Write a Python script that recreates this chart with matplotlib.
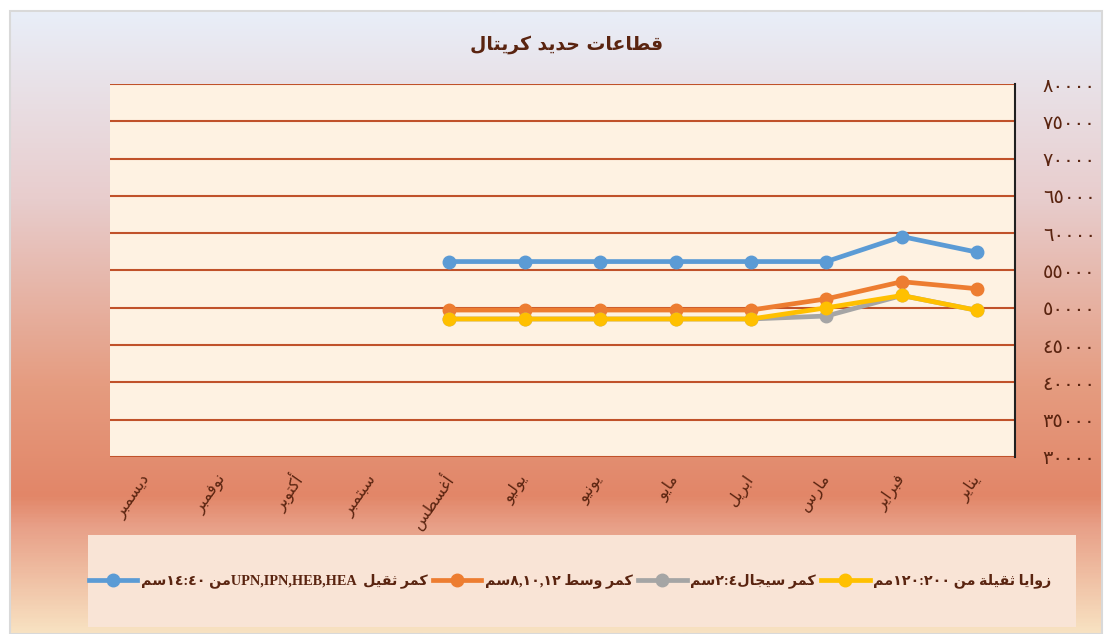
import re
import numpy as np
import matplotlib
matplotlib.use("Agg")
import matplotlib.pyplot as plt
from matplotlib.colors import LinearSegmentedColormap
from matplotlib.patches import Rectangle
from matplotlib.lines import Line2D

# Data (months listed January -> December, drawn right to left)
months = ["يناير", "فبراير", "مارس", "ابريل", "مايو", "يونيو",
          "يوليو", "أغسطس", "سبتمبر", "أكتوبر", "نوفمبر", "ديسمبر"]
nan = np.nan
heavy_beams = [57450, 59550, 56200, 56200, 56200, 56200, 56200, 56200, nan, nan, nan, nan]
medium_beams = [52550, 53500, 51200, 49700, 49700, 49700, 49700, 49700, nan, nan, nan, nan]
channel_beams = [49650, 51650, 48900, 48500, 48500, 48500, 48500, 48500, nan, nan, nan, nan]
heavy_angles = [49650, 51650, 50000, 48500, 48500, 48500, 48500, 48500, nan, nan, nan, nan]

series_labels = ["كمر ثقيل  UPN,IPN,HEB,HEAمن ١٤:٤٠سم",
                 "كمر وسط ٨,١٠,١٢سم",
                 "كمر سيجال٢:٤سم",
                 "زوايا ثقيلة من ١٢٠:٢٠٠مم"]
series_colors = ["#5B9BD5", "#ED7D31", "#A5A5A5", "#FFC000"]
title = "قطاعات حديد كريتال"
y_ticks = list(range(30000, 80001, 5000))

TEXT_COLOR = "#5A2410"

# --- tiny Arabic shaping + bidi, matplotlib does neither ---
DUAL = {'ب': 0xFE8F, 'ت': 0xFE95, 'ث': 0xFE99, 'ج': 0xFE9D, 'ح': 0xFEA1, 'خ': 0xFEA5,
        'س': 0xFEB1, 'ش': 0xFEB5, 'ص': 0xFEB9, 'ض': 0xFEBD, 'ط': 0xFEC1, 'ظ': 0xFEC5,
        'ع': 0xFEC9, 'غ': 0xFECD, 'ف': 0xFED1, 'ق': 0xFED5, 'ك': 0xFED9, 'ل': 0xFEDD,
        'م': 0xFEE1, 'ن': 0xFEE5, 'ه': 0xFEE9, 'ي': 0xFEF1}
RIGHT = {'ا': 0xFE8D, 'أ': 0xFE83, 'إ': 0xFE87, 'آ': 0xFE81, 'ة': 0xFE93, 'د': 0xFEA9,
         'ذ': 0xFEAB, 'ر': 0xFEAD, 'ز': 0xFEAF, 'و': 0xFEED, 'ى': 0xFEEF}


def shape(text):
    out = []
    for i, ch in enumerate(text):
        prev_c = text[i - 1] if i > 0 else ''
        next_c = text[i + 1] if i + 1 < len(text) else ''
        joins_prev = prev_c in DUAL
        if ch in DUAL:
            joins_next = next_c in DUAL or next_c in RIGHT
            base = DUAL[ch]
            if joins_prev and joins_next:
                out.append(chr(base + 3))
            elif joins_prev:
                out.append(chr(base + 1))
            elif joins_next:
                out.append(chr(base + 2))
            else:
                out.append(chr(base))
        elif ch in RIGHT:
            out.append(chr(RIGHT[ch] + (1 if joins_prev else 0)))
        else:
            out.append(ch)
    return ''.join(out)


LTR_RUN = re.compile(r'([A-Za-z0-9\u0660-\u0669](?:[A-Za-z0-9\u0660-\u0669,:.]*[A-Za-z0-9\u0660-\u0669])?)')


def ar(text):
    tokens = LTR_RUN.split(shape(text))
    parts = []
    for k, tok in enumerate(tokens):
        parts.append(tok if k % 2 == 1 else tok[::-1])
    return ''.join(reversed(parts))


def arabic_digits(v):
    return ''.join(chr(0x0660 + int(d)) for d in str(int(v)))


W, H = 1107, 634
fig = plt.figure(figsize=(W / 100, H / 100), dpi=100)

# gradient background of the chart area
bg = fig.add_axes([10 / W, 0, 1092 / W, 623 / H])
bg_cmap = LinearSegmentedColormap.from_list("bg", [
    (0.00, (248 / 255, 226 / 255, 194 / 255)),
    (0.17, (232 / 255, 160 / 255, 136 / 255)),
    (0.22, (226 / 255, 134 / 255, 104 / 255)),
    (0.40, (229 / 255, 156 / 255, 128 / 255)),
    (0.70, (232 / 255, 205 / 255, 205 / 255)),
    (1.00, (233 / 255, 238 / 255, 248 / 255)),
])
bg.imshow(np.linspace(0, 1, 400).reshape(-1, 1), cmap=bg_cmap, aspect="auto",
          origin="lower", extent=[0, 1, 0, 1])
bg.set_axis_off()
fig.patches.append(Rectangle((10 / W, 0), 1092 / W, 623 / H, transform=fig.transFigure,
                             fill=False, edgecolor="#D9D9D9", linewidth=1.5))

# plot area
ax = fig.add_axes([110 / W, 1 - 457 / H, 905 / W, 373 / H])
ax.set_facecolor("#FEF2E2")
x = np.arange(len(months))
all_series = [heavy_beams, medium_beams, channel_beams, heavy_angles]
for vals, col, lab in zip(all_series, series_colors, series_labels):
    ax.plot(x, vals, color=col, linewidth=3.4, marker="o", markersize=9,
            solid_capstyle="round", label=lab)

ax.set_xlim(11.5, -0.5)
ax.set_ylim(30000, 80000)
ax.set_yticks(y_ticks)
ax.yaxis.tick_right()
ax.set_yticklabels([arabic_digits(v) for v in y_ticks], color=TEXT_COLOR,
                   fontsize=14, family="DejaVu Sans")
ax.tick_params(axis="y", length=0, pad=20)
ax.grid(axis="y", color="#C0522A", linewidth=1.5)
ax.set_axisbelow(True)
for side in ["left", "top", "bottom"]:
    ax.spines[side].set_visible(False)
ax.spines["right"].set_color("#202020")
ax.spines["right"].set_linewidth(1.5)

ax.set_xticks(x)
ax.set_xticklabels([ar(m) for m in months], rotation=55, rotation_mode="anchor",
                   ha="right", va="center", color=TEXT_COLOR, fontsize=11.5,
                   family="DejaVu Sans")
ax.tick_params(axis="x", length=0, pad=14)

fig.text(0.512, 1 - 45 / H, ar(title), ha="center", va="center", fontsize=13.5,
         fontweight="bold", color=TEXT_COLOR, family="DejaVu Sans")

# legend box
fig.patches.append(Rectangle((88 / W, 1 - 627 / H), 988 / W, 92 / H,
                             transform=fig.transFigure, facecolor="#F9E4D6",
                             edgecolor="none", zorder=1))
handles = [Line2D([], [], color=c, linewidth=3.4, marker="o", markersize=9)
           for c in series_colors]
leg = fig.legend(handles, [ar(l) for l in series_labels], loc="center",
                 bbox_to_anchor=(0.515, 1 - 581 / H), ncol=4, frameon=False,
                 handlelength=3.4, columnspacing=0.35, handletextpad=0.25,
                 prop={"family": ["Liberation Serif", "DejaVu Sans"], "weight": "bold", "size": 10.3})
for t in leg.get_texts():
    t.set_color(TEXT_COLOR)

fig.savefig("out.png", dpi=100)
